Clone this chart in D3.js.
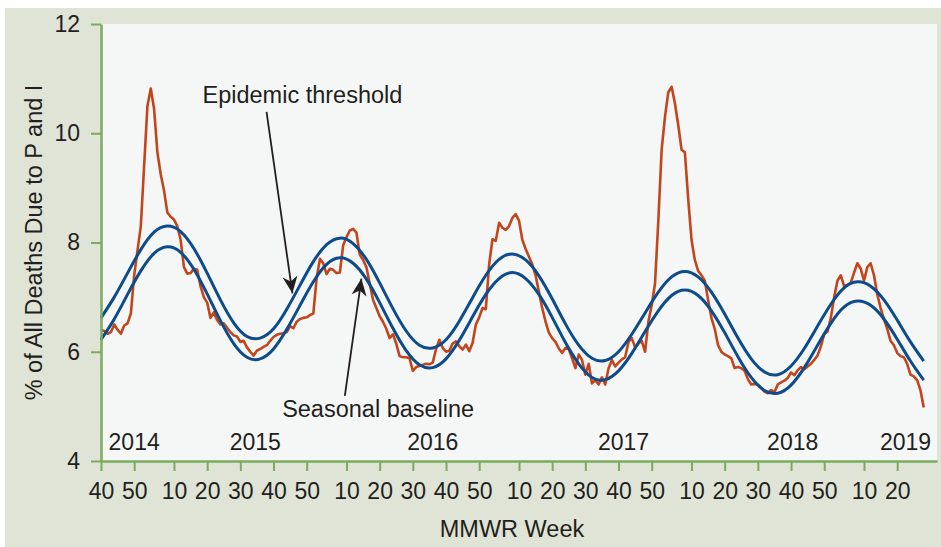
<!DOCTYPE html>
<html>
<head>
<meta charset="utf-8">
<script src="https://cdn.jsdelivr.net/npm/d3@7"></script>
<style>
  body { margin: 0; background: #fff; }
  text { font-family: "Liberation Sans", Arial, sans-serif; fill: #231f20; }
</style>
</head>
<body>
<script>
// Weekly % of deaths due to P&I, week index 0 = MMWR week 40 of 2014
var observed = [
  6.40, 6.38, 6.33, 6.36, 6.50, 6.40, 6.33, 6.48, 6.52, 6.70,
  7.40, 7.85, 8.30, 9.40, 10.50, 10.82, 10.45, 9.65, 9.25, 8.95,
  8.55, 8.47, 8.42, 8.30, 8.05, 7.55, 7.43, 7.44, 7.52, 7.50,
  7.20, 7.00, 6.90, 6.62, 6.72, 6.58, 6.50, 6.52, 6.44, 6.36,
  6.30, 6.28, 6.18, 6.20, 6.08, 6.00, 5.93, 6.02, 6.05, 6.09,
  6.12, 6.20, 6.27, 6.31, 6.33, 6.34, 6.36, 6.47, 6.43, 6.55,
  6.60, 6.62, 6.63, 6.67, 6.70, 7.35, 7.70, 7.62, 7.42, 7.52,
  7.50, 7.44, 7.45, 7.95, 8.10, 8.22, 8.25, 8.18, 7.78, 7.68,
  7.55, 7.25, 6.95, 6.80, 6.65, 6.55, 6.42, 6.25, 6.32, 6.15,
  5.92, 5.90, 5.90, 5.88, 5.65, 5.72, 5.74, 5.76, 5.78, 5.77,
  5.80, 6.05, 6.22, 6.07, 6.00, 6.02, 6.15, 6.19, 6.10, 6.04,
  6.13, 6.01, 6.16, 6.50, 6.63, 6.80, 6.78, 7.60, 8.06, 8.03,
  8.36, 8.27, 8.23, 8.30, 8.45, 8.52, 8.40, 8.05, 7.88, 7.74,
  7.60, 7.40, 7.10, 6.80, 6.55, 6.35, 6.25, 6.18, 6.06, 5.98,
  6.07, 6.05, 5.88, 5.70, 5.95, 5.85, 5.58, 5.78, 5.42, 5.48,
  5.40, 5.53, 5.40, 5.70, 5.85, 5.73, 5.80, 5.86, 5.90, 6.18,
  6.25, 6.08, 6.15, 6.20, 6.00, 6.55, 6.85, 7.25, 8.40, 9.70,
  10.30, 10.75, 10.85, 10.55, 10.15, 9.70, 9.65, 8.80, 8.05, 7.68,
  7.48, 7.40, 7.30, 6.95, 6.62, 6.42, 6.12, 6.00, 5.95, 5.92,
  5.88, 5.70, 5.72, 5.70, 5.65, 5.50, 5.40, 5.41, 5.40, 5.34,
  5.27, 5.24, 5.30, 5.26, 5.40, 5.44, 5.47, 5.52, 5.62, 5.57,
  5.66, 5.72, 5.68, 5.73, 5.78, 5.85, 5.93, 6.10, 6.32, 6.37,
  6.62, 7.00, 7.30, 7.40, 7.20, 7.22, 7.26, 7.45, 7.62, 7.52,
  7.30, 7.55, 7.62, 7.40, 7.05, 6.80, 6.60, 6.42, 6.20, 6.12,
  5.98, 5.92, 5.90, 5.78, 5.58, 5.55, 5.48, 5.30, 4.98
];

// Baseline and threshold, read every 4 weeks (week index 0, 4, 8, ... 248)
var baseline = [
  6.22, 6.60, 7.05, 7.48, 7.80, 7.92, 7.82, 7.51, 7.06, 6.57,
  6.15, 5.90, 5.87, 6.05, 6.41, 6.85, 7.28, 7.60, 7.72, 7.62,
  7.33, 6.90, 6.43, 6.02, 5.76, 5.71, 5.87, 6.21, 6.64, 7.05,
  7.34, 7.45, 7.34, 7.05, 6.63, 6.17, 5.78, 5.53, 5.49, 5.65,
  5.97, 6.37, 6.75, 7.03, 7.13, 7.03, 6.75, 6.35, 5.91, 5.53,
  5.29, 5.24, 5.39, 5.71, 6.12, 6.52, 6.82, 6.93, 6.85, 6.60,
  6.23, 5.83, 5.48
];
var threshold = [
  6.62, 7.00, 7.44, 7.87, 8.19, 8.30, 8.20, 7.89, 7.44, 6.95,
  6.53, 6.28, 6.25, 6.42, 6.78, 7.22, 7.65, 7.96, 8.08, 7.98,
  7.69, 7.26, 6.79, 6.38, 6.12, 6.07, 6.22, 6.56, 6.99, 7.40,
  7.69, 7.79, 7.68, 7.39, 6.97, 6.51, 6.12, 5.88, 5.84, 6.00,
  6.32, 6.71, 7.09, 7.37, 7.47, 7.37, 7.09, 6.69, 6.25, 5.87,
  5.63, 5.58, 5.74, 6.06, 6.47, 6.87, 7.17, 7.28, 7.20, 6.95,
  6.58, 6.18, 5.83
];

// x axis ticks (week index) and their MMWR week labels
var tickWeeks = [0, 10, 22, 32, 42, 52, 62, 74, 84, 94, 104, 114,
                 126, 136, 146, 156, 166, 178, 188, 198, 208, 218, 230, 240];
var tickLabels = ["40", "50", "10", "20", "30", "40", "50", "10", "20", "30", "40", "50",
                  "10", "20", "30", "40", "50", "10", "20", "30", "40", "50", "10", "20"];

// year labels inside the plot
var years = ["2014", "2015", "2016", "2017", "2018", "2019"];
var yearWeeks = [10, 46.5, 100, 157.5, 208.5, 242.5];

var yTicks = [4, 6, 8, 10, 12];

var svgWidth = 941;
var svgHeight = 547;

var margin = { top: 24, right: 4, bottom: 86, left: 101 };
var width = svgWidth - margin.left - margin.right;
var height = svgHeight - margin.top - margin.bottom;

var axisColor = "#7aab5e";
var textColor = "#231f20";
var labelSize = "23.5px";

var svg = d3.select("body")
  .append("svg")
  .attr("width", svgWidth)
  .attr("height", svgHeight);

// outer panel
svg.append("rect")
  .attr("x", 5)
  .attr("y", 8)
  .attr("width", svgWidth - 5)
  .attr("height", svgHeight - 8)
  .attr("fill", "#dfe4d6");

var chartGroup = svg.append("g")
  .attr("transform", `translate(${margin.left}, ${margin.top})`);

chartGroup.append("rect")
  .attr("width", width)
  .attr("height", height)
  .attr("fill", "#f5f7f6");

var xScale = d3.scaleLinear()
  .domain([0, 252])
  .range([0, width]);

var yScale = d3.scaleLinear()
  .domain([4, 12])
  .range([height, 0]);

// arrow head
svg.append("defs").append("marker")
  .attr("id", "arrow")
  .attr("markerUnits", "userSpaceOnUse")
  .attr("viewBox", "-18 -8 19 16")
  .attr("refX", 0)
  .attr("refY", 0)
  .attr("markerWidth", 19)
  .attr("markerHeight", 16)
  .attr("orient", "auto")
  .append("path")
  .attr("d", "M0,0 L-17,-7.5 L-12,0 L-17,7.5 Z")
  .attr("fill", textColor);

// lines
var smoothLine = d3.line()
  .x((d, k) => xScale(k * 4))
  .y(d => yScale(d))
  .curve(d3.curveNatural);

var obsLine = d3.line()
  .x((d, k) => xScale(k))
  .y(d => yScale(d));

chartGroup.append("path")
  .datum(observed)
  .attr("d", obsLine)
  .attr("fill", "none")
  .attr("stroke", "#c2451b")
  .attr("stroke-width", 2.6)
  .attr("stroke-linejoin", "round");

[baseline, threshold].forEach(function (series) {
  chartGroup.append("path")
    .datum(series)
    .attr("d", smoothLine)
    .attr("fill", "none")
    .attr("stroke", "#0c4b8c")
    .attr("stroke-width", 3);
});

// axes
var xAxis = chartGroup.append("g")
  .attr("transform", `translate(0, ${height})`)
  .call(d3.axisBottom(xScale)
    .tickValues(tickWeeks)
    .tickFormat((d, k) => tickLabels[k])
    .tickSize(10)
    .tickSizeOuter(0)
    .tickPadding(12));

var yAxis = chartGroup.append("g")
  .call(d3.axisLeft(yScale)
    .tickValues(yTicks)
    .tickSize(10)
    .tickSizeOuter(0)
    .tickPadding(11));

[xAxis, yAxis].forEach(function (ax) {
  ax.select(".domain").attr("stroke", axisColor).attr("stroke-width", 2.5);
  ax.selectAll(".tick line").attr("stroke", axisColor).attr("stroke-width", 2);
  ax.selectAll(".tick text")
    .attr("fill", textColor)
    .style("font-size", "23px")
    .style("font-family", "'Liberation Sans', Arial, sans-serif");
});

// year labels
chartGroup.selectAll(".year")
  .data(years)
  .enter().append("text")
  .attr("class", "year")
  .attr("x", (d, k) => xScale(yearWeeks[k]))
  .attr("y", yScale(4.2))
  .attr("text-anchor", "middle")
  .style("font-size", "23px")
  .text(d => d);

// annotations
chartGroup.append("text")
  .attr("x", xScale(30.6))
  .attr("y", yScale(10.55))
  .style("font-size", labelSize)
  .text("Epidemic threshold");

chartGroup.append("line")
  .attr("x1", xScale(49.9))
  .attr("y1", yScale(10.39))
  .attr("x2", xScale(57.7))
  .attr("y2", yScale(7.07))
  .attr("stroke", textColor)
  .attr("stroke-width", 1.8)
  .attr("marker-end", "url(#arrow)");

chartGroup.append("text")
  .attr("x", xScale(54.6))
  .attr("y", yScale(4.81))
  .style("font-size", labelSize)
  .text("Seasonal baseline");

chartGroup.append("line")
  .attr("x1", xScale(73.5))
  .attr("y1", yScale(5.19))
  .attr("x2", xScale(78.5))
  .attr("y2", yScale(7.34))
  .attr("stroke", textColor)
  .attr("stroke-width", 1.8)
  .attr("marker-end", "url(#arrow)");

// axis titles
svg.append("text")
  .attr("x", margin.left + width / 2 - 7)
  .attr("y", 537)
  .attr("text-anchor", "middle")
  .style("font-size", labelSize)
  .text("MMWR Week");

svg.append("text")
  .attr("transform", `translate(42, ${margin.top + height / 2}) rotate(-90)`)
  .attr("text-anchor", "middle")
  .style("font-size", labelSize)
  .text("% of All Deaths Due to P and I");
</script>
</body>
</html>
